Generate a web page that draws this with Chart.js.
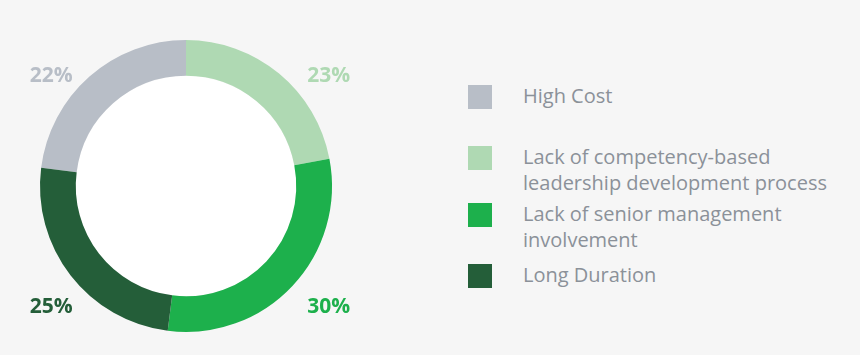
<!DOCTYPE html>
<html>
<head>
<meta charset="utf-8">
<script src="https://cdn.jsdelivr.net/npm/chart.js@4/dist/chart.umd.min.js"></script>
<style>
  html, body { margin:0; padding:0; background:#f6f6f6; width:860px; height:355px; overflow:hidden; font-family:"Open Sans", sans-serif; }
  #wrap { position:absolute; left:0; top:0; width:372px; height:372px; }
  #legend { position:absolute; left:468px; top:0; margin:0; padding:0; list-style:none; }
  #legend li { position:absolute; left:0; white-space:nowrap; }
  #legend .sw { position:absolute; left:0; top:0; width:24px; height:24px; }
  #legend .tx { position:absolute; left:55px; top:-2px; font-size:20px; line-height:26px; color:#8b9199; }
</style>
</head>
<body>
<div id="wrap"><canvas id="c"></canvas></div>
<ul id="legend"></ul>
<script>
// Order: High Cost, competency-based, senior management, Long Duration
const categories = ["High Cost", "Lack of competency-based leadership development process", "Lack of senior management involvement", "Long Duration"];
const legendLines = [["High Cost"], ["Lack of competency-based", "leadership development process"], ["Lack of senior management", "involvement"], ["Long Duration"]];
// arc sizes as drawn in the picture
const values = [23, 22, 30, 25];
// percentage labels as printed in the picture
const pctLabels = ["22%", "23%", "30%", "25%"];
const colors = ["#b8bec7", "#afd9b3", "#1db04c", "#245e39"];

const legendTops = [85, 146, 203, 264];
const ul = document.getElementById('legend');
legendLines.forEach((lines, i) => {
  const li = document.createElement('li');
  li.style.top = legendTops[i] + 'px';
  const sw = document.createElement('span');
  sw.className = 'sw'; sw.style.background = colors[i];
  const tx = document.createElement('span');
  tx.className = 'tx';
  tx.innerHTML = lines.join('<br>');
  li.appendChild(sw); li.appendChild(tx);
  ul.appendChild(li);
});

const total = values.reduce((a, b) => a + b, 0);

const holePlugin = {
  id: 'hole',
  beforeDatasetsDraw(chart) {
    const arc = chart.getDatasetMeta(0).data[0];
    const ctx = chart.ctx;
    ctx.save();
    ctx.fillStyle = '#ffffff';
    ctx.beginPath();
    ctx.arc(arc.x, arc.y, arc.innerRadius, 0, Math.PI * 2);
    ctx.fill();
    ctx.restore();
  }
};

const labelPlugin = {
  id: 'pctLabels',
  afterDatasetsDraw(chart) {
    const meta = chart.getDatasetMeta(0);
    const ctx = chart.ctx;
    ctx.save();
    ctx.font = 'bold 21px "Open Sans", sans-serif';
    ctx.textAlign = 'left';
    ctx.textBaseline = 'middle';
    meta.data.forEach((arc, i) => {
      const mid = (arc.startAngle + arc.endAngle) / 2;
      const right = Math.cos(mid) >= 0;
      const down = Math.sin(mid) >= 0;
      const R = arc.outerRadius;
      const x = arc.x + (right ? 0.83 * R : -1.07 * R);
      const y = arc.y + (down ? 0.83 * R : -0.755 * R);
      ctx.fillStyle = colors[i];
      ctx.fillText(pctLabels[i], x, y);
    });
    ctx.restore();
  }
};

new Chart(document.getElementById('c'), {
  type: 'doughnut',
  data: {
    labels: categories,
    datasets: [{ data: values, backgroundColor: colors, borderWidth: 0 }]
  },
  options: {
    responsive: true,
    maintainAspectRatio: false,
    animation: false,
    cutout: '75.5%',
    rotation: -values[0] / total * 360,
    layout: { padding: 40 },
    plugins: { legend: { display: false }, tooltip: { enabled: false } }
  },
  plugins: [holePlugin, labelPlugin]
});
</script>
</body>
</html>
